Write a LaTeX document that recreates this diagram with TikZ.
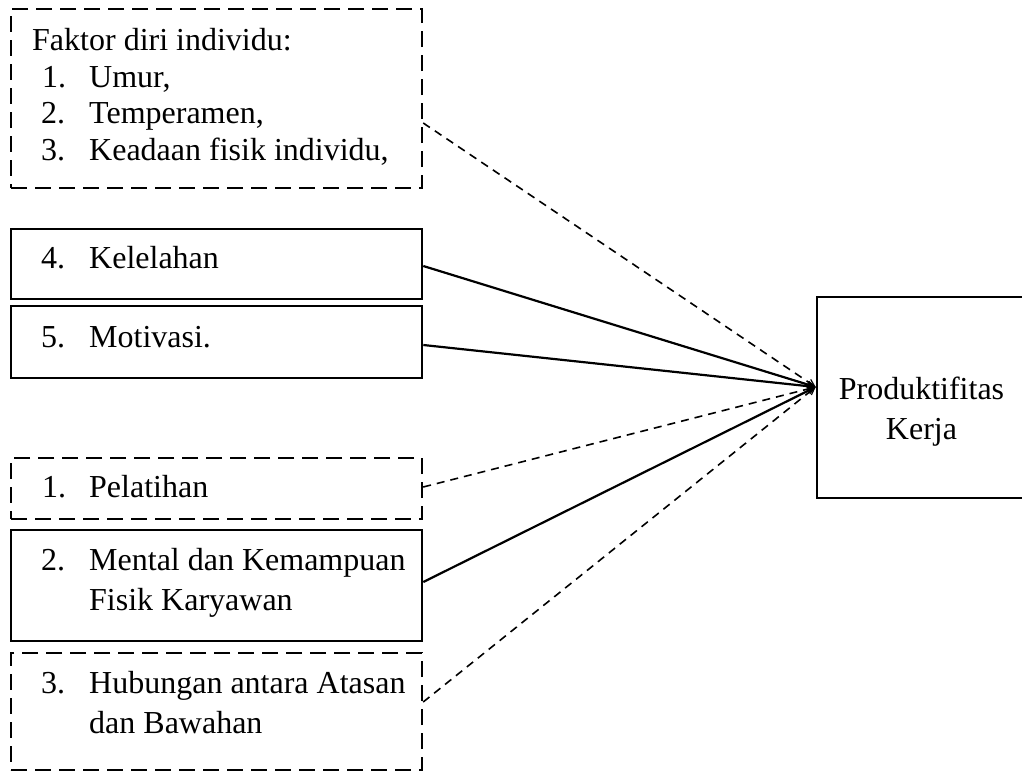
\documentclass[tikz,border=0pt]{standalone}
\usepackage{fontspec}
\setmainfont{Liberation Serif}
\usetikzlibrary{arrows.meta,calc}
\begin{document}
\begin{tikzpicture}[x=1pt,y=-1pt,
  boxsolid/.style={draw,line width=2.6pt,rectangle,inner sep=0pt},
  boxdash/.style={draw,line width=2.4pt,rectangle,inner sep=0pt,dash pattern=on 16pt off 8pt},
  txt/.style={anchor=base west,inner sep=0pt,font=\fontsize{32}{38}\selectfont},
  linksolid/.style={line width=2.2pt,-{Straight Barb[length=7pt,width=7pt,line width=1.2pt]}},
  linkdash/.style={line width=1.6pt,dash pattern=on 8pt off 6pt,-{Straight Barb[length=7pt,width=7pt,line width=1.2pt,sep=0pt]}}]
\useasboundingbox (0,0) rectangle (1022,771);
% boxes
\node[boxdash, minimum width=411pt, minimum height=179pt] (b1) at (216.5,98.5) {};
\node[boxsolid, minimum width=411pt, minimum height=70pt] (b4) at (216.5,264) {};
\node[boxsolid, minimum width=411pt, minimum height=72pt] (b5) at (216.5,342) {};
\node[boxdash, minimum width=411pt, minimum height=61pt] (c1) at (216.5,488.5) {};
\node[boxsolid, minimum width=411pt, minimum height=111pt] (c2) at (216.5,585.5) {};
\node[boxdash, minimum width=411pt, minimum height=117pt] (c3) at (216.5,711.5) {};
\node[boxsolid, minimum width=240pt, minimum height=201pt] (p) at (937,397.5) {};
% texts
\node[txt] (t0) at (32,50) {Faktor diri individu:};
\node[txt] (n1) at (42,87) {1.};
\node[txt] (t1) at (89,87) {Umur,};
\node[txt] (n2) at (41,123) {2.};
\node[txt] (t2) at (89,123) {Temperamen,};
\node[txt] (n3) at (41,160) {3.};
\node[txt] (t3) at (89,160) {Keadaan fisik individu,};
\node[txt] (n4) at (41,268) {4.};
\node[txt] (t4) at (89,268) {Kelelahan};
\node[txt] (n5) at (41,347) {5.};
\node[txt] (t5) at (89,347) {Motivasi.};
\node[txt] (m1) at (42,497) {1.};
\node[txt] (s1) at (89,497) {Pelatihan};
\node[txt] (m2) at (41,570) {2.};
\node[txt] (s2) at (89,570) {Mental dan Kemampuan};
\node[txt] (s2b) at (89,610) {Fisik Karyawan};
\node[txt] (m3) at (41,693) {3.};
\node[txt] (s3) at (89,693) {Hubungan antara Atasan};
\node[txt] (s3b) at (89,733) {dan Bawahan};
\node[txt,anchor=base] (pt) at (921.5,399) {Produktifitas};
\node[txt,anchor=base] (pk) at (921.5,439) {Kerja};
% connectors
\coordinate (tip) at ($(p.west)+(0,-10.5)$);
\draw[linkdash] ($(b1.east)+(0,24.5)$) -- (tip);
\draw[linksolid] ($(b4.east)+(0,2)$) -- (tip);
\draw[linksolid] ($(b5.east)+(0,3)$) -- (tip);
\draw[linkdash] ($(c1.east)+(0,-1.5)$) -- (tip);
\draw[linksolid] ($(c2.east)+(0,-3.5)$) -- (tip);
\draw[linkdash] ($(c3.east)+(0,-9.5)$) -- (tip);
\end{tikzpicture}
\end{document}
